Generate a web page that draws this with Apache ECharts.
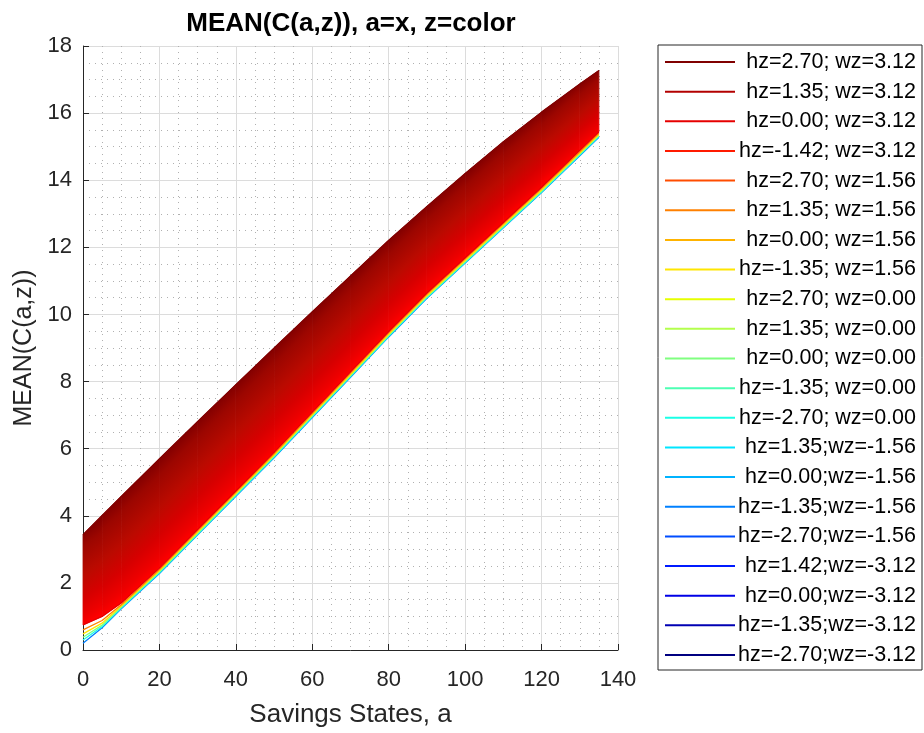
<!DOCTYPE html>
<html><head><meta charset="utf-8">
<script src="https://cdn.jsdelivr.net/npm/echarts@6/dist/echarts.min.js"></script>
<style>html,body{margin:0;padding:0;background:#fff}#c{width:924px;height:733px}</style>
</head><body><div id="c"></div>
<script>
// ---- data ----
const savingsStates = [0, 5, 10, 20, 30, 40, 50, 60, 70, 80, 90, 100, 110, 120, 130, 135];
const upperEdge  = [3.44, 4.01, 4.58, 5.70, 6.81, 7.91, 9.00, 10.08, 11.15, 12.21, 13.22, 14.20, 15.15, 16.03, 16.87, 17.27];
const redFloor   = [0.75, 1.00, 1.40, 2.44, 3.59, 4.74, 5.89, 7.09, 8.29, 9.49, 10.64, 11.69, 12.74, 13.79, 14.89, 15.44];
const orangeEdge = [0.60, 0.88, 1.35, 2.40, 3.55, 4.70, 5.85, 7.05, 8.25, 9.45, 10.60, 11.65, 12.70, 13.75, 14.85, 15.40];
const yellowEdge = [0.48, 0.80, 1.31, 2.36, 3.51, 4.66, 5.81, 7.01, 8.21, 9.41, 10.56, 11.61, 12.66, 13.71, 14.81, 15.36];
const greenEdge  = [0.38, 0.74, 1.28, 2.33, 3.48, 4.63, 5.78, 6.98, 8.18, 9.38, 10.53, 11.58, 12.63, 13.68, 14.78, 15.33];
const cyanEdge   = [0.30, 0.70, 1.25, 2.30, 3.45, 4.60, 5.75, 6.95, 8.15, 9.35, 10.50, 11.55, 12.60, 13.65, 14.75, 15.30];
const blueEdge   = [0.20, 0.66, 1.23, 2.28, 3.43, 4.58, 5.73, 6.93, 8.13, 9.33, 10.48, 11.53, 12.58, 13.63, 14.73, 15.28];

const legendNames = [
  'hz=2.70; wz=3.12', 'hz=1.35; wz=3.12', 'hz=0.00; wz=3.12', 'hz=-1.42; wz=3.12',
  'hz=2.70; wz=1.56', 'hz=1.35; wz=1.56', 'hz=0.00; wz=1.56', 'hz=-1.35; wz=1.56',
  'hz=2.70; wz=0.00', 'hz=1.35; wz=0.00', 'hz=0.00; wz=0.00', 'hz=-1.35; wz=0.00',
  'hz=-2.70; wz=0.00', 'hz=1.35;wz=-1.56', 'hz=0.00;wz=-1.56', 'hz=-1.35;wz=-1.56',
  'hz=-2.70;wz=-1.56', 'hz=1.42;wz=-3.12', 'hz=0.00;wz=-3.12', 'hz=-1.35;wz=-3.12',
  'hz=-2.70;wz=-3.12'
];
// visible curves per legend entry (others lie hidden inside / under the band)
const curvesByName = {
  'hz=2.70; wz=3.12': upperEdge,
  'hz=0.00; wz=3.12': redFloor,
  'hz=1.35; wz=1.56': orangeEdge,
  'hz=-1.35; wz=1.56': yellowEdge,
  'hz=0.00; wz=0.00': greenEdge,
  'hz=-2.70; wz=0.00': cyanEdge,
  'hz=-1.35;wz=-1.56': blueEdge
};

// ---- styles ----
const lineColors = ['#800000','#b30000','#e60000','#ff1a00','#ff4d00','#ff8000','#ffb300','#ffe600',
  '#e6ff00','#b3ff4d','#80ff80','#4dffb3','#1affe6','#00e6ff','#00b3ff','#0080ff','#004dff',
  '#001aff','#0000e6','#0000b3','#000080'];
const FONT = '"Liberation Sans", Arial, Helvetica, sans-serif';
const TXT = '#262626';
const bandStops = [
  {offset: 0, color: '#840000'}, {offset: 0.15, color: '#9c0600'}, {offset: 0.45, color: '#ba0a00'},
  {offset: 0.7, color: '#d60000'}, {offset: 0.9, color: '#ee0000'}, {offset: 1, color: '#ff0000'}
];

const bandSegments = [];
for (let i = 0; i < savingsStates.length - 1; i++) {
  bandSegments.push([savingsStates[i], upperEdge[i], redFloor[i], savingsStates[i+1], upperEdge[i+1], redFloor[i+1]]);
}

const chart = echarts.init(document.getElementById('c'), null, {renderer: 'canvas'});

const series = [{
  type: 'custom',
  name: 'band',
  z: 2,
  silent: true,
  data: bandSegments,
  encode: {x: [0, 3], y: [1, 2, 4, 5]},
  renderItem: function (params, api) {
    const U0 = api.coord([api.value(0), api.value(1)]);
    const L0 = api.coord([api.value(0), api.value(2)]);
    const U1 = api.coord([api.value(3), api.value(4)]);
    const L1 = api.coord([api.value(3), api.value(5)]);
    let dx = (U1[0] - U0[0] + L1[0] - L0[0]) / 2, dy = (U1[1] - U0[1] + L1[1] - L0[1]) / 2;
    const len = Math.hypot(dx, dy); dx /= len; dy /= len;
    let nx = -dy, ny = dx;
    const Um = [(U0[0] + U1[0]) / 2, (U0[1] + U1[1]) / 2];
    const Lm = [(L0[0] + L1[0]) / 2, (L0[1] + L1[1]) / 2];
    let dist = (Lm[0] - Um[0]) * nx + (Lm[1] - Um[1]) * ny;
    if (dist < 0) { nx = -nx; ny = -ny; dist = -dist; }
    const grad = new echarts.graphic.LinearGradient(Um[0], Um[1], Um[0] + nx * dist, Um[1] + ny * dist, bandStops, true);
    return {type: 'polygon', shape: {points: [U0, U1, L1, L0]}, style: {fill: grad, stroke: grad, lineWidth: 0.8}};
  }
}];

legendNames.forEach(function (name, i) {
  const ys = curvesByName[name];
  series.push({
    type: 'line',
    name: name,
    symbol: 'none',
    showSymbol: false,
    z: 40 - i,
    color: lineColors[i],
    itemStyle: {color: lineColors[i]},
    lineStyle: {color: lineColors[i], width: i === 0 ? 1.2 : 1.3},
    data: ys ? savingsStates.map(function (x, k) { return [x, ys[k]]; }) : []
  });
});

chart.setOption({
  animation: false,
  backgroundColor: '#fff',
  title: {
    text: 'MEAN(C(a,z)), a=x, z=color',
    left: 346, top: 6, textAlign: 'center',
    textStyle: {fontFamily: FONT, fontWeight: 'bold', fontSize: 26, color: '#000'}
  },
  grid: {left: 83, right: 306, top: 46, bottom: 76, containLabel: false},
  xAxis: {
    type: 'value', min: 0, max: 140, interval: 20,
    name: 'Savings States, a', nameLocation: 'middle', nameGap: 52,
    nameTextStyle: {fontFamily: FONT, fontSize: 26, color: TXT},
    axisLine: {show: true, onZero: false, lineStyle: {color: TXT, width: 1}},
    axisTick: {show: true, inside: true, length: 6, lineStyle: {color: TXT}},
    axisLabel: {fontFamily: FONT, fontSize: 22, color: TXT, margin: 19},
    splitLine: {show: true, lineStyle: {color: '#dcdcdc', width: 1}},
    minorTick: {show: false, splitNumber: 4},
    minorSplitLine: {show: true, lineStyle: {color: '#b0b0b0', width: 1, type: [1, 5]}}
  },
  yAxis: {
    type: 'value', min: 0, max: 18, interval: 2,
    name: 'MEAN(C(a,z))', nameLocation: 'middle', nameGap: 46,
    nameTextStyle: {fontFamily: FONT, fontSize: 25, color: TXT},
    axisLine: {show: true, onZero: false, lineStyle: {color: TXT, width: 1}},
    axisTick: {show: true, inside: true, length: 6, lineStyle: {color: TXT}},
    axisLabel: {fontFamily: FONT, fontSize: 22, color: TXT, margin: 11},
    splitLine: {show: true, lineStyle: {color: '#dcdcdc', width: 1}},
    minorTick: {show: false, splitNumber: 4},
    minorSplitLine: {show: true, lineStyle: {color: '#b0b0b0', width: 1, type: [1, 5]}}
  },
  legend: {
    orient: 'vertical', left: 658, top: 45,
    padding: [6, 6, 4, 7], itemGap: 7.65, itemWidth: 70, itemHeight: 2,
    icon: 'rect',
    borderColor: TXT, borderWidth: 1, backgroundColor: '#fff',
    data: legendNames,
    formatter: function (n) { return '{t|' + n + '}'; },
    textStyle: {fontFamily: FONT, fontSize: 21.5, color: '#000',
      rich: {t: {width: 176, align: 'right', fontFamily: FONT, fontSize: 21.5, lineHeight: 22, color: '#000'}}}
  },
  series: series
});
</script>
</body></html>
